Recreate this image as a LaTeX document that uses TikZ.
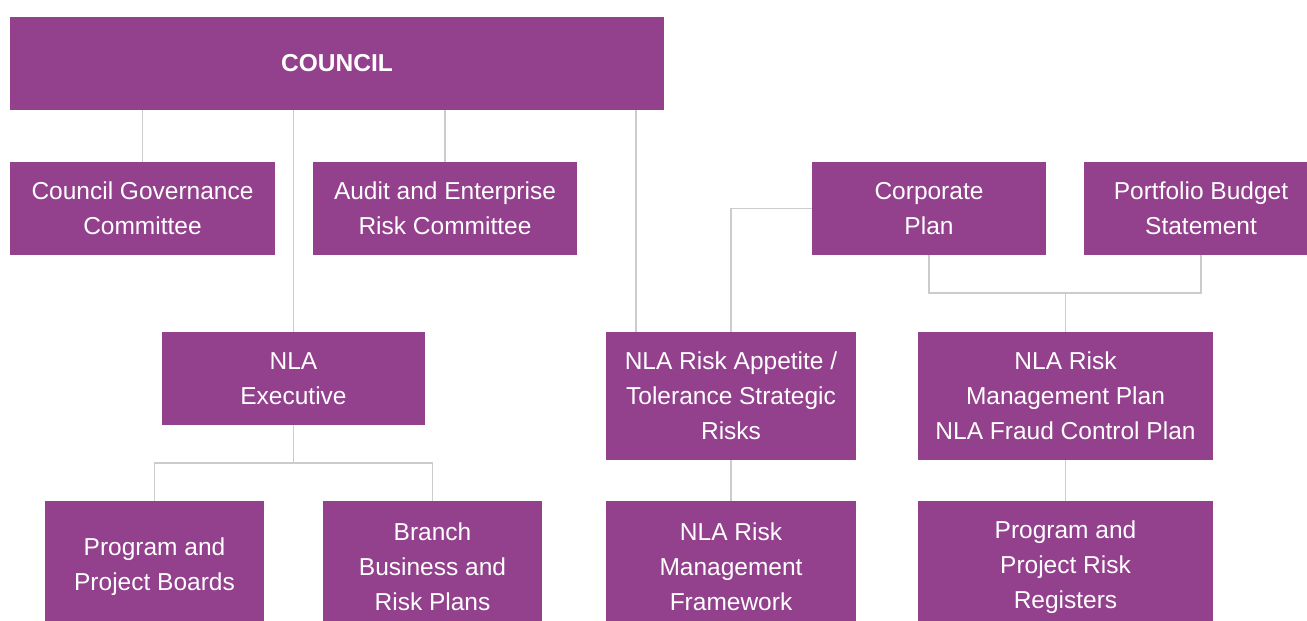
\documentclass[tikz,border=0pt]{standalone}
\usepackage{fontspec}
\setmainfont{Liberation Sans}
\usetikzlibrary{calc}
\definecolor{plum}{HTML}{93408D}
\definecolor{wire}{HTML}{CCCCCC}
\tikzset{
  box/.style={fill=plum, text=white, align=center, inner sep=0pt,
    font=\fontsize{24.5}{35}\selectfont},
  wirel/.style={draw=wire, line width=1.2pt}
}

\begin{document}
\begin{tikzpicture}[x=1pt, y=-1pt]
			%%%%% START %%%%%
			\useasboundingbox (0, 0) rectangle (1307, 621);
			
			% top
			\node[box, minimum width=654, minimum height=93, font=\fontsize{24.5}{35}\selectfont\bfseries] (council) at (337, 63.5) {COUNCIL};
			
			% second row
			\node[box, minimum width=265, minimum height=93] (govern) at (142.5, 208.5) {Council Governance\\Committee};
			\node[box, minimum width=264, minimum height=93] (audit) at (445, 208.5) {Audit and Enterprise\\Risk Committee};
			\node[box, minimum width=234, minimum height=93] (corpplan) at (929, 208.5) {Corporate\\Plan};
			\node[box, minimum width=234, minimum height=93] (budget) at (1201, 208.5) {Portfolio Budget\\Statement};
			
			% third row
			\node[box, minimum width=263, minimum height=93] (exec) at (293.5, 378.5) {NLA\\Executive};
			\node[box, minimum width=250, minimum height=128] (appetite) at (731, 396) {NLA Risk Appetite /\\Tolerance Strategic\\Risks};
			\node[box, minimum width=295, minimum height=128] (rmplan) at (1065.5, 396) {NLA Risk\\Management Plan\\NLA Fraud Control Plan};
			
			% bottom row
			\node[box, minimum width=219, minimum height=132] (boards) at (154.5, 567) {Program and\\Project Boards};
			\node[box, minimum width=219, minimum height=132] (branch) at (432.5, 567) {Branch\\Business and\\Risk Plans};
			\node[box, minimum width=250, minimum height=132] (framework) at (731, 567) {NLA Risk\\Management\\Framework};
			\node[box, minimum width=295, minimum height=132] (registers) at (1065.5, 567) {Program and\\Project Risk\\Registers};
			
			% links from council
			\draw[wirel] (council.south -| govern.north) -- (govern.north);
			\draw[wirel] (council.south -| exec.north) -- (exec.north);
			\draw[wirel] (council.south -| audit.north) -- (audit.north);
			\coordinate (tap) at (636, 332);
			\draw[wirel] (council.south -| tap) -- (tap);
			
			% corporate plan to appetite
			\draw[wirel] (corpplan.west) -| (appetite.north);
			
			% plans to management plan
			\coordinate (join) at (1065.5, 293);
			\draw[wirel] (corpplan.south) |- (join) -| (budget.south);
			\draw[wirel] (join) -- (rmplan.north);
			
			% executive to boards and plans
			\coordinate (split) at (293.5, 463);
			\draw[wirel] (exec.south) -- (split);
			\draw[wirel] (boards.north) |- (split) -| (branch.north);
			
			% down to bottom row
			\draw[wirel] (appetite.south) -- (framework.north);
			\draw[wirel] (rmplan.south) -- (registers.north);
			
			%%%%% END %%%%%
		\end{tikzpicture}
\end{document}
